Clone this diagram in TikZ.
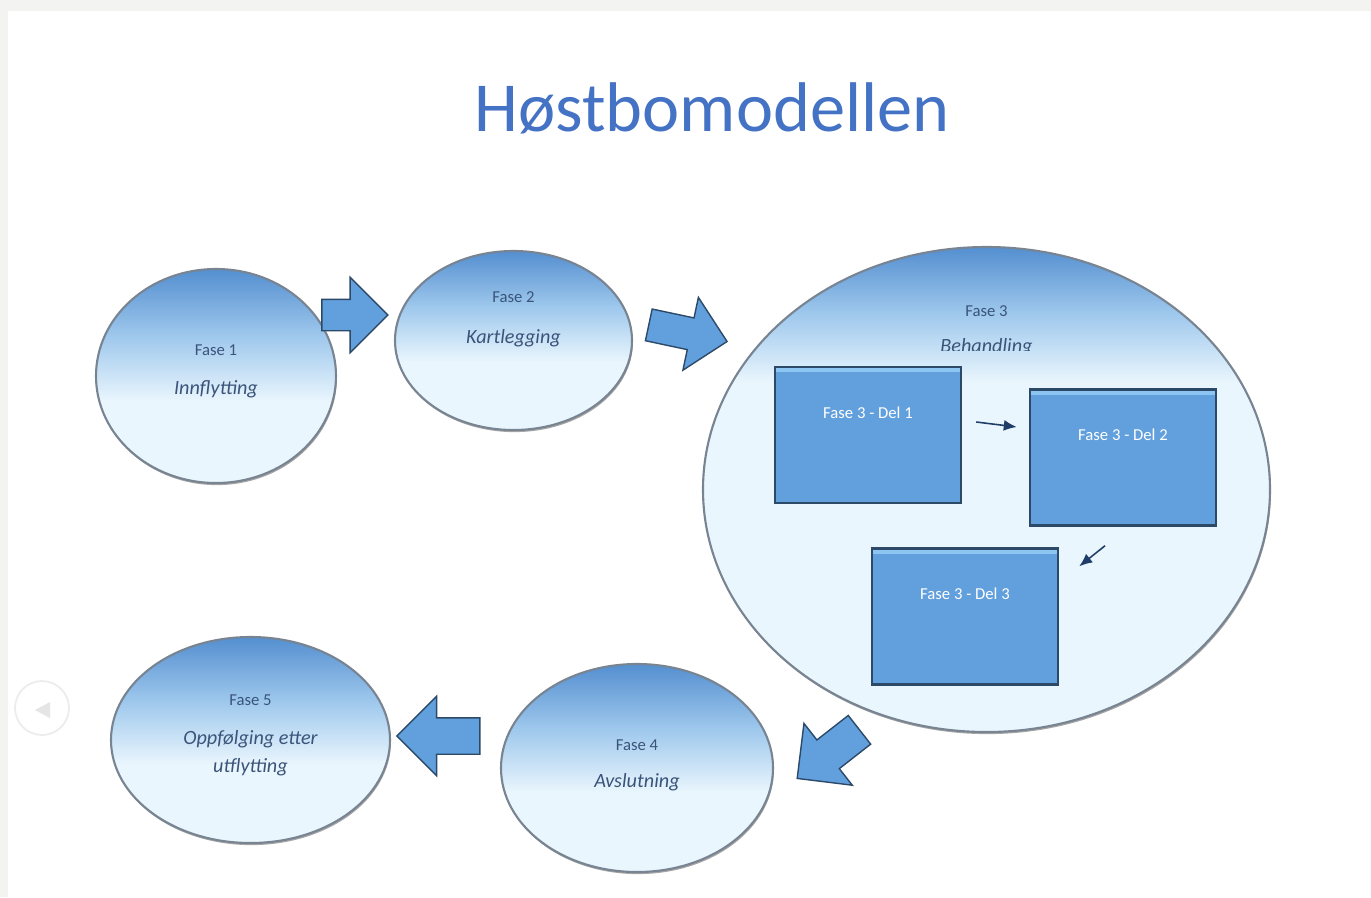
\documentclass[tikz,border=0pt]{standalone}
\usepackage{fontspec}
\setmainfont{Carlito}
\usetikzlibrary{shapes.geometric,shapes.arrows,arrows.meta,shadows}

\definecolor{tittel}{RGB}{68,114,196}
\definecolor{fasetekst}{RGB}{58,84,122}
\definecolor{topp}{RGB}{84,143,208}
\definecolor{midt}{RGB}{160,201,237}
\definecolor{lys}{RGB}{234,246,253}
\definecolor{rand}{RGB}{120,132,145}
\definecolor{boks}{RGB}{98,160,221}
\definecolor{boksly}{RGB}{140,196,242}
\definecolor{kant}{RGB}{44,74,104}
\definecolor{pilmork}{RGB}{30,62,104}
\definecolor{ramme}{RGB}{243,244,242}

\pgfdeclareverticalshading{fasefarge}{100bp}{color(0bp)=(lys); color(44bp)=(lys); color(59bp)=(midt); color(75bp)=(topp); color(100bp)=(topp)}
\pgfdeclareverticalshading{storfarge}{100bp}{color(0bp)=(lys); color(61bp)=(lys); color(68bp)=(midt); color(75bp)=(topp); color(100bp)=(topp)}

\tikzset{
  fase/.style={ellipse, shading=fasefarge, draw=rand, line width=1.2pt, inner sep=0pt,
    drop shadow={shadow xshift=0.5pt, shadow yshift=-1.2pt, opacity=0.35, fill=black}},
  fasenr/.style={text=fasetekst, font=\fontsize{9.5}{11}\selectfont},
  fasenavn/.style={text=fasetekst, font=\fontsize{11.5}{16}\selectfont\itshape, align=center},
  del/.style={rectangle, fill=boks, draw=kant, line width=1.4pt, inner sep=0pt,
    minimum width=3.72cm, minimum height=2.72cm,
    path picture={\fill[boksly] (path picture bounding box.north west) rectangle ([yshift=-3pt]path picture bounding box.north east);}},
  deltekst/.style={text=white, font=\fontsize{9.5}{11}\selectfont, yshift=0.45cm},
  blokkpil/.style={single arrow, fill=boks, draw=kant, line width=0.8pt, inner xsep=0pt},
  minipil/.style={draw=pilmork, line width=0.9pt, -{Latex[length=2.6mm,width=2.2mm]}}
}

\begin{document}
\begin{tikzpicture}
  % lysegraa ramme rundt lysbildet
  \fill[ramme] (0,0) rectangle (27.42,-17.94);
  \fill[white] (0.16,-0.22) rectangle (27.42,-17.94);
  \useasboundingbox (0,0) rectangle (27.42,-17.94);

  \node[anchor=base, text=tittel, font=\fontsize{40}{48}\selectfont] (tittel) at (14.24,-2.62) {Høstbomodellen};

  % navigasjonsknapp
  \draw[gray!15, line width=1pt] (0.84,-14.16) circle (0.54);
  \fill[gray!20] (0.70,-14.20) -- (1.00,-14.04) -- (1.00,-14.36) -- cycle;

  % fasene
  \node[fase, minimum width=4.8cm, minimum height=4.28cm,
        label={[fasenr, yshift=0.52cm]center:Fase 1},
        label={[fasenavn, yshift=-0.26cm]center:Innflytting}] (fase1) at (4.32,-7.52) {};
  \node[fase, minimum width=4.74cm, minimum height=3.58cm,
        label={[fasenr, yshift=0.87cm]center:Fase 2},
        label={[fasenavn, yshift=0.05cm]center:Kartlegging}] (fase2) at (10.27,-6.81) {};
  \node[fase, shading=storfarge, minimum width=11.34cm, minimum height=9.7cm] (fase3) at (19.73,-9.79) {};
  \node[fasenr] (fase3nr) at ([yshift=3.57cm]fase3.center) {Fase 3};
  \begin{scope}
    \clip (17,-6.5) rectangle (23,-7.0);
    \node[fasenavn] (fase3navn) at ([yshift=2.85cm]fase3.center) {Behandling};
  \end{scope}
  \node[fase, minimum width=5.44cm, minimum height=4.16cm,
        label={[fasenr, yshift=0.46cm]center:Fase 4},
        label={[fasenavn, yshift=-0.28cm]center:Avslutning}] (fase4) at (12.74,-15.36) {};
  \node[fase, minimum width=5.58cm, minimum height=4.12cm,
        label={[fasenr, yshift=0.8cm]center:Fase 5},
        label={[fasenavn, yshift=-0.26cm]center:Oppfølging etter\\utflytting}] (fase5) at (5.01,-14.8) {};

  % delene i fase 3
  \node[del, label={[deltekst]center:Fase 3 - Del 1}] (del1) at (17.36,-8.70) {};
  \node[del, label={[deltekst]center:Fase 3 - Del 2}] (del2) at (22.46,-9.15) {};
  \node[del, label={[deltekst]center:Fase 3 - Del 3}] (del3) at (19.30,-12.33) {};
  \draw[minipil] ([shift={(0.28,0.26)}]del1.east) -- ([shift={(-0.24,0.61)}]del2.west);
  \draw[minipil] ([shift={(-0.36,-0.38)}]del2.south) -- ([shift={(0.4,-0.38)}]del3.north east);

  % blokkpiler mellom fasene
  \node[blokkpil, inner ysep=0.3cm, minimum height=1.32cm, single arrow head extend=0.44cm] (pil1) at (6.94,-6.30) {};
  \node[blokkpil, rotate=-12, inner ysep=0.31cm, minimum height=1.6cm, single arrow head extend=0.42cm] (pil2) at (13.60,-6.63) {};
  \node[blokkpil, rotate=218, inner ysep=0.35cm, minimum height=1.58cm, single arrow head extend=0.42cm] (pil3) at (16.71,-14.97) {};
  \node[blokkpil, rotate=180, inner ysep=0.35cm, minimum height=1.66cm, single arrow head extend=0.43cm] (pil4) at (8.95,-14.72) {};
\end{tikzpicture}
\end{document}
